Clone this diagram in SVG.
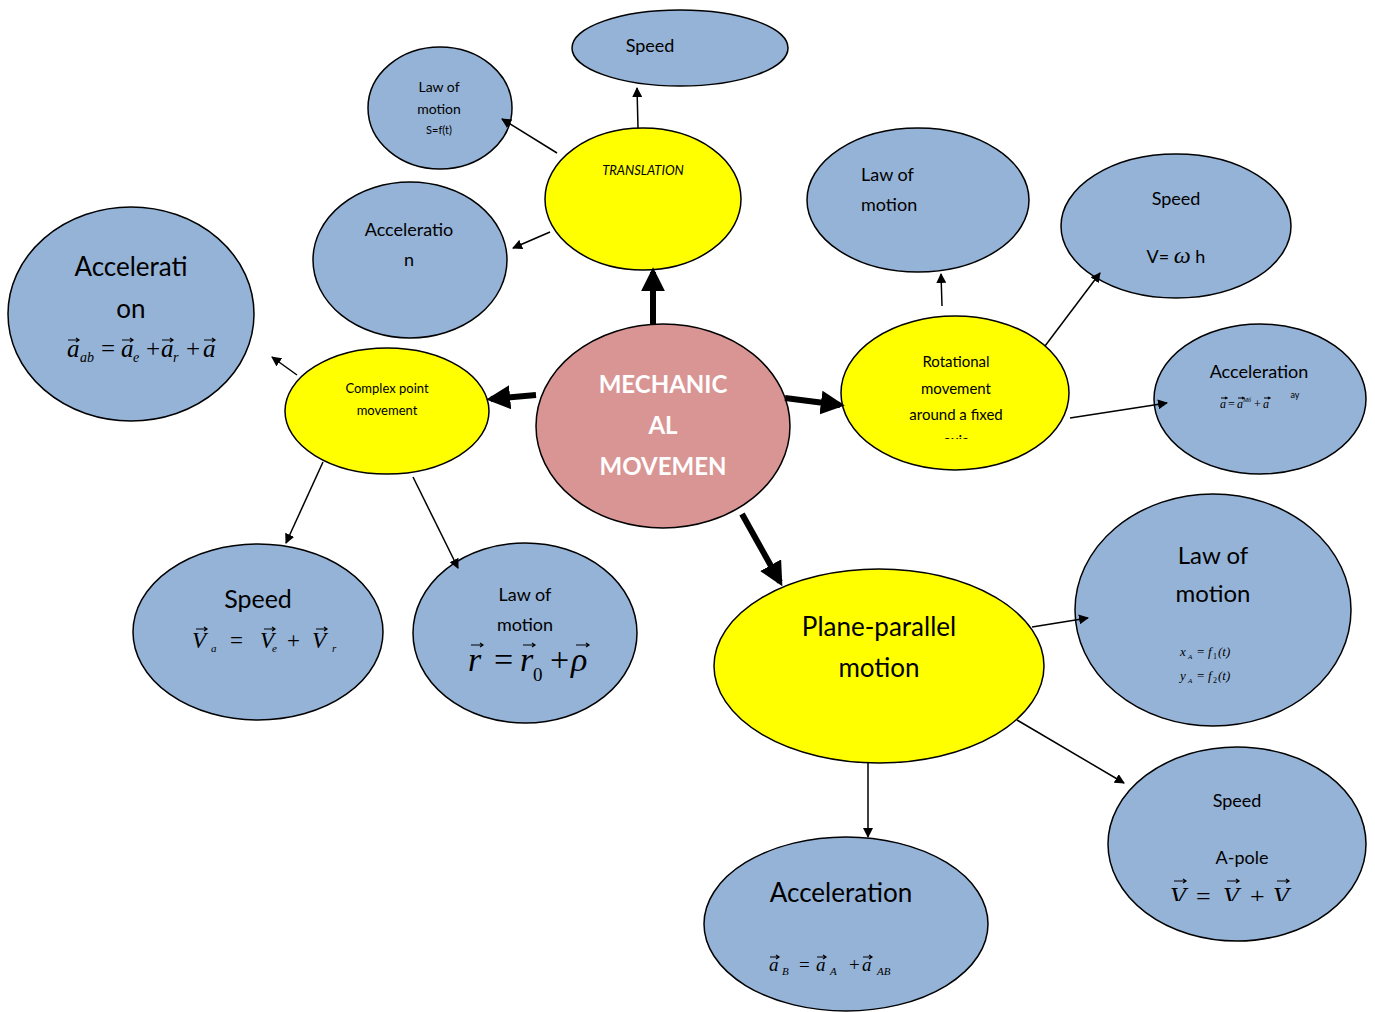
<svg xmlns="http://www.w3.org/2000/svg" width="1375" height="1012" viewBox="0 0 1375 1012">
<style>
.b{fill:#95b3d7;stroke:#000;stroke-width:1.5}
.y{fill:#ffff00;stroke:#000;stroke-width:1.5}
.p{fill:#d99594;stroke:#000;stroke-width:1.5}
text{font-family:Lato,"Liberation Sans",sans-serif;fill:#000;text-anchor:middle}
.m{font-family:"Liberation Serif","DejaVu Serif",serif;font-style:italic;text-anchor:start}
.n{font-style:normal}
.c{stroke:#000;stroke-width:1.5;fill:none}
.t{stroke:#000;stroke-width:6;fill:none}
.v{stroke:#000;stroke-width:1.2;fill:none}
</style>
<defs>
<marker id="ah" viewBox="0 0 10 10" refX="9" refY="5" markerWidth="10" markerHeight="10" markerUnits="userSpaceOnUse" orient="auto"><path d="M0,0 L10,5 L0,10 z" fill="#000"/></marker>
<marker id="ahb" viewBox="0 0 10 10" refX="8" refY="5" markerWidth="4" markerHeight="4" orient="auto"><path d="M0,0 L10,5 L0,10 z" fill="#000"/></marker>
<clipPath id="clipRot"><rect x="840" y="310" width="240" height="129"/></clipPath>
<clipPath id="clipA"><rect x="1100" y="700" width="280" height="201"/></clipPath>
</defs>
<g id="speed-top"><ellipse class="b" cx="680" cy="48" rx="108" ry="38"/><text x="650" y="52" font-size="18">Speed</text></g>
<g id="law-translation"><ellipse class="b" cx="440" cy="108" rx="72" ry="61"/>
<text x="439" y="92" font-size="14">Law of</text><text x="439" y="114" font-size="14">motion</text><text x="439" y="134" font-size="11">S=f(t)</text></g>
<g id="translation"><ellipse class="y" cx="643" cy="199" rx="98" ry="71"/><text x="643" y="175" font-size="13" font-style="italic">TRANSLATION</text></g>
<g id="accel-translation"><ellipse class="b" cx="410" cy="260" rx="97" ry="78"/><text x="409" y="236" font-size="18">Acceleratio</text><text x="409" y="266" font-size="18">n</text></g>
<g id="accel-complex"><ellipse class="b" cx="131" cy="314" rx="123" ry="107"/>
<text x="131" y="276" font-size="26">Accelerati</text><text x="131" y="318" font-size="26">on</text>
<g font-size="25">
<text class="m" x="67" y="357">a</text><text class="m" x="80" y="362" font-size="14">ab</text><text class="m n" x="101" y="357">=</text>
<text class="m" x="121" y="357">a</text><text class="m" x="133" y="362" font-size="14">e</text><text class="m n" x="146" y="357">+</text>
<text class="m" x="161" y="357">a</text><text class="m" x="173" y="362" font-size="14">r</text><text class="m n" x="186" y="357">+</text>
<text class="m" x="203" y="357">a</text></g>
<path class="v" d="M68,340 h11 M76,338 l3,2 l-3,2 M122,340 h11 M130,338 l3,2 l-3,2 M162,340 h11 M170,338 l3,2 l-3,2 M204,340 h11 M212,338 l3,2 l-3,2"/></g>
<g id="complex"><ellipse class="y" cx="387" cy="411" rx="102" ry="63"/><text x="387" y="393" font-size="13">Complex point</text><text x="387" y="415" font-size="13">movement</text></g>
<g id="mechanical"><ellipse class="p" cx="663" cy="426" rx="127" ry="102"/>
<text x="663" y="393" font-size="24" font-weight="bold" style="fill:#fff">MECHANIC</text>
<text x="663" y="434" font-size="24" font-weight="bold" style="fill:#fff">AL</text>
<text x="663" y="475" font-size="24" font-weight="bold" style="fill:#fff">MOVEMEN</text></g>
<g id="law-rot"><ellipse class="b" cx="918" cy="200" rx="111" ry="72"/>
<text x="861" y="181" font-size="18" style="text-anchor:start">Law of</text><text x="861" y="211" font-size="18" style="text-anchor:start">motion</text></g>
<g id="speed-rot"><ellipse class="b" cx="1176" cy="226" rx="115" ry="72"/>
<text x="1176" y="205" font-size="18">Speed</text><text x="1176" y="263" font-size="18">V= <tspan font-family="Liberation Serif,serif" font-style="italic" font-size="24">ω</tspan> h</text></g>
<g id="rotational"><ellipse class="y" cx="955" cy="393" rx="114" ry="77"/>
<g clip-path="url(#clipRot)"><text x="956" y="367" font-size="15">Rotational</text><text x="956" y="394" font-size="15">movement</text><text x="956" y="420" font-size="15">around a fixed</text><text x="956" y="446" font-size="15">axis</text></g></g>
<g id="accel-rot"><ellipse class="b" cx="1260" cy="399" rx="106" ry="75"/>
<text x="1259" y="378" font-size="18">Acceleration</text>
<g font-size="12" fill="#444">
<text class="m" x="1220" y="408" fill="#444">a</text><text class="m n" x="1228" y="408" fill="#444">=</text>
<text class="m" x="1237" y="408" fill="#444">a</text><text class="m" x="1243" y="402" font-size="6" fill="#444">Мб</text><text class="m n" x="1254" y="408" fill="#444">+</text>
<text class="m" x="1263" y="408" fill="#444">a</text><text x="1295" y="398" font-size="9" fill="#444">ay</text></g>
<path class="v" stroke-width="0.8" d="M1221,398 h6 M1225,397 l2,1 l-2,1 M1238,398 h6 M1242,397 l2,1 l-2,1 M1264,398 h6 M1268,397 l2,1 l-2,1"/></g>
<g id="speed-complex"><ellipse class="b" cx="258" cy="632" rx="125" ry="88"/>
<text x="258" y="608" font-size="25">Speed</text>
<g font-size="23">
<text class="m" x="192" y="648">V</text><text class="m" x="211" y="652" font-size="11">a</text><text class="m n" x="230" y="648">=</text>
<text class="m" x="260" y="648">V</text><text class="m" x="272" y="652" font-size="11">e</text><text class="m n" x="287" y="648">+</text>
<text class="m" x="312" y="648">V</text><text class="m" x="332" y="652" font-size="11">r</text></g>
<path class="v" d="M196,629 h11 M204,627 l3,2 l-3,2 M264,629 h11 M272,627 l3,2 l-3,2 M316,629 h11 M324,627 l3,2 l-3,2"/></g>
<g id="law-complex"><ellipse class="b" cx="525" cy="633" rx="112" ry="90"/>
<text x="525" y="601" font-size="18">Law of</text><text x="525" y="631" font-size="18">motion</text>
<g font-size="34">
<text class="m" x="468" y="671">r</text><text class="m n" x="494" y="671">=</text>
<text class="m" x="520" y="671">r</text><text class="m n" x="533" y="681" font-size="19">0</text><text class="m n" x="550" y="671">+</text>
<text class="m" x="571" y="671">ρ</text></g>
<path class="v" d="M471,645 h12 M480,643 l3,2 l-3,2 M523,645 h12 M532,643 l3,2 l-3,2 M576,645 h13 M586,643 l3,2 l-3,2"/></g>
<g id="plane"><ellipse class="y" cx="879" cy="666" rx="165" ry="97"/>
<text x="879" y="636" font-size="26">Plane-parallel</text><text x="879" y="677" font-size="26">motion</text></g>
<g id="law-plane"><ellipse class="b" cx="1213" cy="610" rx="138" ry="116"/>
<text x="1213" y="564" font-size="24">Law of</text><text x="1213" y="602" font-size="24">motion</text>
<g font-size="13" fill="#333">
<text class="m" x="1180" y="656" fill="#333">x</text><text class="m" x="1188" y="659" font-size="7" fill="#333">A</text><text class="m n" x="1197" y="656" fill="#333">=</text>
<text class="m" x="1208" y="656" fill="#333">f</text><text class="m n" x="1213" y="659" font-size="8" fill="#333">1</text><text class="m" x="1218" y="656" fill="#333">(t)</text>
<text class="m" x="1180" y="680" fill="#333">y</text><text class="m" x="1188" y="683" font-size="7" fill="#333">A</text><text class="m n" x="1197" y="680" fill="#333">=</text>
<text class="m" x="1208" y="680" fill="#333">f</text><text class="m n" x="1213" y="683" font-size="8" fill="#333">2</text><text class="m" x="1218" y="680" fill="#333">(t)</text></g></g>
<g id="speed-plane"><ellipse class="b" cx="1237" cy="844" rx="129" ry="97"/>
<text x="1237" y="807" font-size="18">Speed</text><text x="1242" y="864" font-size="18">A-pole</text>
<g clip-path="url(#clipA)" font-size="26">
<text class="m" x="1170" y="905">V</text><text class="m" x="1186" y="910" font-size="13">B</text><text class="m n" x="1196" y="905">=</text>
<text class="m" x="1223" y="905">V</text><text class="m" x="1240" y="910" font-size="13">A</text><text class="m n" x="1250" y="905">+</text>
<text class="m" x="1273" y="905">V</text><text class="m" x="1291" y="910" font-size="13">AB</text></g>
<path class="v" d="M1174,881 h12 M1183,879 l3,2 l-3,2 M1227,881 h12 M1236,879 l3,2 l-3,2 M1277,881 h12 M1286,879 l3,2 l-3,2"/></g>
<g id="accel-plane"><ellipse class="b" cx="846" cy="924" rx="142" ry="87"/>
<text x="841" y="902" font-size="26">Acceleration</text>
<g font-size="19">
<text class="m" x="769" y="971" fill="#222">a</text><text class="m" x="782" y="975" font-size="11" fill="#222">B</text><text class="m n" x="799" y="971" fill="#222">=</text>
<text class="m" x="816" y="971" fill="#222">a</text><text class="m" x="830" y="975" font-size="11" fill="#222">A</text><text class="m n" x="849" y="971" fill="#222">+</text>
<text class="m" x="862" y="971" fill="#222">a</text><text class="m" x="877" y="975" font-size="11" fill="#222">AB</text></g>
<path class="v" d="M770,957 h9 M776,955 l3,2 l-3,2 M817,957 h9 M823,955 l3,2 l-3,2 M863,957 h9 M869,955 l3,2 l-3,2"/></g>
<g id="connectors">
<line class="c" x1="638" y1="128" x2="637" y2="88" marker-end="url(#ah)"/>
<line class="c" x1="557" y1="153" x2="502" y2="119" marker-end="url(#ah)"/>
<line class="c" x1="550" y1="232" x2="513" y2="248" marker-end="url(#ah)"/>
<line class="t" x1="653" y1="324" x2="653" y2="272" marker-end="url(#ahb)"/>
<line class="t" x1="536" y1="395" x2="491" y2="399" marker-end="url(#ahb)"/>
<line class="t" x1="785" y1="398" x2="840" y2="405" marker-end="url(#ahb)"/>
<line class="t" x1="742" y1="514" x2="780" y2="582" marker-end="url(#ahb)"/>
<line class="c" x1="297" y1="375" x2="272" y2="357" marker-end="url(#ah)"/>
<line class="c" x1="323" y1="462" x2="286" y2="543" marker-end="url(#ah)"/>
<line class="c" x1="413" y1="477" x2="458" y2="568" marker-end="url(#ah)"/>
<line class="c" x1="942" y1="306" x2="941" y2="274" marker-end="url(#ah)"/>
<line class="c" x1="1045" y1="346" x2="1100" y2="273" marker-end="url(#ah)"/>
<line class="c" x1="1070" y1="418" x2="1167" y2="403" marker-end="url(#ah)"/>
<line class="c" x1="1032" y1="627" x2="1088" y2="618" marker-end="url(#ah)"/>
<line class="c" x1="1017" y1="720" x2="1124" y2="783" marker-end="url(#ah)"/>
<line class="c" x1="868" y1="763" x2="868" y2="837" marker-end="url(#ah)"/>
</g>
</svg>
